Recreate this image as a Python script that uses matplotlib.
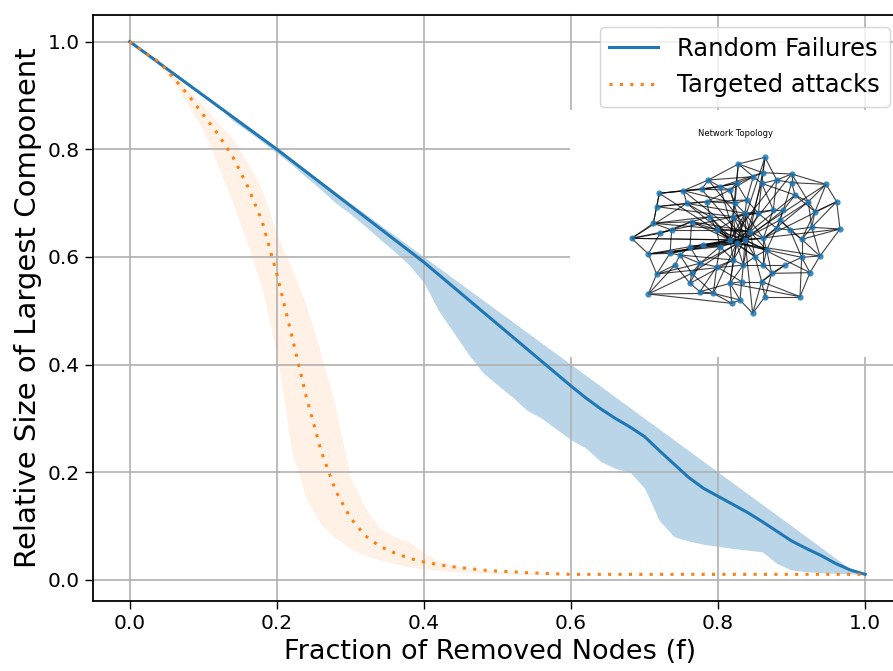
import numpy as np
import matplotlib
matplotlib.use("Agg")
import matplotlib.pyplot as plt
from matplotlib.collections import LineCollection

# fraction of removed nodes
f = np.linspace(0, 1, 51)

# random failures: mean and band
rand_mean = [1.0, 0.98, 0.96, 0.94, 0.92, 0.90, 0.88, 0.86, 0.84, 0.82,
             0.80, 0.779, 0.758, 0.737, 0.716, 0.695, 0.674, 0.653, 0.632, 0.611,
             0.59, 0.567, 0.544, 0.521, 0.498, 0.475, 0.452, 0.429, 0.406, 0.383,
             0.36, 0.338, 0.318, 0.30, 0.284, 0.266, 0.24, 0.215, 0.19, 0.17,
             0.155, 0.14, 0.125, 0.108, 0.09, 0.072, 0.058, 0.045, 0.03, 0.018,
             0.01]
rand_hi = [1.0, 0.98, 0.96, 0.94, 0.92, 0.90, 0.88, 0.86, 0.84, 0.82,
           0.80, 0.78, 0.76, 0.74, 0.72, 0.70, 0.68, 0.66, 0.64, 0.62,
           0.60, 0.58, 0.56, 0.54, 0.52, 0.50, 0.48, 0.46, 0.44, 0.42,
           0.40, 0.38, 0.36, 0.34, 0.32, 0.30, 0.28, 0.26, 0.24, 0.22,
           0.20, 0.18, 0.16, 0.14, 0.12, 0.10, 0.08, 0.06, 0.04, 0.02,
           0.01]
rand_lo = [1.0, 0.98, 0.96, 0.94, 0.92, 0.90, 0.88, 0.853, 0.834, 0.814,
           0.793, 0.772, 0.748, 0.725, 0.70, 0.68, 0.657, 0.633, 0.61, 0.585,
           0.552, 0.50, 0.46, 0.42, 0.385, 0.362, 0.34, 0.315, 0.30, 0.28,
           0.26, 0.245, 0.22, 0.207, 0.20, 0.17, 0.11, 0.08, 0.072, 0.066,
           0.062, 0.058, 0.055, 0.052, 0.03, 0.018, 0.015, 0.013, 0.012, 0.011,
           0.01]

# targeted attacks: mean and band
targ_mean = [1.0, 0.98, 0.962, 0.932, 0.90, 0.864, 0.828, 0.786, 0.732, 0.666,
             0.568, 0.455, 0.34, 0.24, 0.165, 0.115, 0.082, 0.062, 0.05, 0.04,
             0.033, 0.028, 0.024, 0.021, 0.018, 0.016, 0.015, 0.013, 0.012, 0.011,
             0.01, 0.01, 0.01, 0.01, 0.01, 0.01, 0.01, 0.01, 0.01, 0.01,
             0.01, 0.01, 0.01, 0.01, 0.01, 0.01, 0.01, 0.01, 0.01, 0.01,
             0.01]
targ_hi = [1.0, 0.98, 0.962, 0.94, 0.91, 0.88, 0.85, 0.82, 0.775, 0.725,
           0.64, 0.58, 0.51, 0.42, 0.32, 0.19, 0.135, 0.095, 0.08, 0.07,
           0.05, 0.035, 0.027, 0.022, 0.018, 0.016, 0.014, 0.013, 0.012, 0.011,
           0.01, 0.01, 0.01, 0.01, 0.01, 0.01, 0.01, 0.01, 0.01, 0.01,
           0.01, 0.01, 0.01, 0.01, 0.01, 0.01, 0.01, 0.01, 0.01, 0.01,
           0.01]
targ_lo = [1.0, 0.98, 0.955, 0.925, 0.88, 0.835, 0.77, 0.70, 0.625, 0.54,
           0.42, 0.24, 0.15, 0.103, 0.077, 0.058, 0.045, 0.037, 0.03, 0.024,
           0.02, 0.017, 0.015, 0.013, 0.012, 0.011, 0.01, 0.01, 0.01, 0.01,
           0.01, 0.01, 0.01, 0.01, 0.01, 0.01, 0.01, 0.01, 0.01, 0.01,
           0.01, 0.01, 0.01, 0.01, 0.01, 0.01, 0.01, 0.01, 0.01, 0.01,
           0.01]

# inset network: node layout (arbitrary units) and edges
node_x = [215, 265, 265, 290, 298, 280, 290, 330, 335, 370, 380, 395, 390, 425, 445,
          440, 450, 480, 470, 480, 420, 395, 390, 420, 460, 510, 525, 520, 510, 520,
          470, 430, 345, 360, 300, 615, 535, 608, 580, 695, 650, 695, 798, 530, 605,
          705, 830, 745, 670, 640, 765, 560, 555, 555, 595, 660, 650, 690, 755, 840,
          725, 610, 570, 530, 620, 585, 780, 725, 675, 750, 610, 550, 635, 605, 545,
          510, 720, 615, 578, 540, 515]
node_y = [415, 462, 582, 522, 280, 370, 320, 460, 390, 272, 310, 365, 440, 268, 240,
          305, 350, 260, 390, 440, 490, 520, 550, 575, 580, 270, 310, 350, 420, 480,
          500, 435, 495, 465, 400, 172, 192, 218, 230, 222, 240, 248, 253, 250, 250,
          285, 305, 305, 330, 330, 335, 300, 420, 340, 340, 360, 385, 390, 382, 387,
          418, 415, 395, 430, 450, 470, 468, 472, 495, 518, 495, 495, 520, 545, 545,
          550, 590, 590, 640, 600, 610]
edges = [(0, 5), (0, 1), (0, 8), (0, 34), (0, 10), (0, 28), (1, 3), (1, 7), (1, 12),
         (1, 34), (1, 19), (2, 3), (2, 24), (2, 21), (2, 32), (3, 32), (3, 20), (3, 7),
         (4, 6), (4, 9), (4, 13), (4, 5), (4, 17), (5, 6), (5, 8), (5, 11), (5, 16),
         (6, 10), (6, 15), (6, 27), (7, 33), (7, 8), (7, 31), (7, 28), (8, 11), (8, 34),
         (8, 18), (9, 10), (9, 14), (9, 13), (9, 26), (10, 15), (10, 16), (10, 53),
         (11, 16), (11, 18), (11, 12), (11, 62), (12, 31), (12, 33), (12, 20), (12, 28),
         (13, 14), (13, 17), (13, 25), (13, 43), (14, 17), (14, 36), (14, 38), (15, 16),
         (15, 25), (15, 26), (15, 51), (16, 18), (16, 27), (16, 28), (17, 25), (17, 43),
         (17, 37), (18, 19), (18, 28), (18, 63), (18, 62), (19, 20), (19, 29), (19, 31),
         (19, 30), (20, 21), (20, 30), (20, 22), (21, 22), (21, 33), (21, 24), (22, 23),
         (22, 32), (23, 24), (23, 75), (23, 30), (24, 80), (24, 79), (24, 30), (25, 26),
         (25, 43), (25, 38), (26, 27), (26, 51), (26, 53), (27, 53), (27, 28), (27, 54),
         (27, 63), (28, 63), (28, 52), (28, 29), (28, 62), (28, 61), (28, 64), (29, 30),
         (29, 71), (29, 75), (29, 63), (30, 74), (31, 28), (31, 63), (32, 33), (33, 20),
         (34, 11), (35, 36), (35, 37), (35, 40), (35, 44), (36, 37), (36, 43), (36, 38),
         (37, 38), (37, 39), (37, 44), (38, 43), (38, 51), (38, 44), (39, 40), (39, 41),
         (39, 42), (39, 47), (40, 41), (40, 44), (40, 49), (41, 45), (41, 42), (41, 48),
         (42, 46), (42, 47), (42, 50), (43, 51), (43, 26), (44, 49), (44, 54), (44, 45),
         (45, 47), (45, 48), (45, 50), (46, 50), (46, 59), (46, 58), (47, 50), (47, 58),
         (47, 55), (48, 49), (48, 55), (48, 56), (49, 54), (49, 53), (49, 61), (50, 58),
         (50, 60), (51, 53), (51, 54), (52, 63), (52, 62), (52, 64), (52, 71), (52, 61),
         (52, 28), (53, 54), (53, 62), (53, 63), (54, 62), (54, 56), (55, 56), (55, 57),
         (55, 60), (56, 57), (56, 61), (56, 64), (57, 60), (57, 58), (57, 67), (58, 59),
         (58, 66), (58, 60), (59, 66), (59, 60), (60, 67), (60, 66), (61, 62), (61, 64),
         (61, 70), (62, 63), (62, 65), (63, 71), (63, 65), (63, 75), (64, 65), (64, 70),
         (64, 72), (64, 67), (65, 70), (65, 71), (65, 73), (66, 67), (66, 69), (67, 68),
         (67, 69), (67, 76), (68, 70), (68, 72), (68, 73), (69, 76), (69, 72), (70, 72),
         (70, 71), (71, 74), (71, 75), (72, 73), (72, 77), (73, 74), (73, 77), (73, 78),
         (74, 75), (74, 79), (75, 80), (75, 79), (76, 77), (76, 73), (77, 78), (78, 79),
         (79, 80), (0, 52), (4, 63), (9, 52), (2, 80), (13, 52), (35, 63), (42, 63),
         (59, 52), (46, 61), (36, 28), (1, 63), (3, 71), (21, 63), (20, 52), (14, 62),
         (17, 63), (25, 52), (39, 63), (40, 28), (45, 62), (66, 63), (69, 52), (76, 75),
         (78, 52), (5, 62), (12, 52), (33, 29), (8, 27), (10, 63), (22, 29), (47, 61),
         (48, 52), (55, 63), (52, 18), (52, 27), (52, 53), (52, 65), (52, 31), (63, 16),
         (63, 11), (28, 53), (28, 65), (62, 27), (62, 64), (61, 53), (64, 63), (29, 52),
         (18, 53), (71, 62), (19, 52), (7, 52), (24, 63), (44, 52), (37, 62)]

W, H = 893, 671
fig = plt.figure(figsize=(W / 100, H / 100), dpi=100)
ax = fig.add_axes([93 / W, (H - 601) / H, (902 - 93) / W, 586 / H])

ax.fill_between(f, rand_lo, rand_hi, color="#1f77b4", alpha=0.3, linewidth=0)
ax.plot(f, rand_mean, color="#1f77b4", lw=2.2, label="Random Failures")
ax.fill_between(f, targ_lo, targ_hi, color="#ff7f0e", alpha=0.1, linewidth=0)
ax.plot(f, targ_mean, color="#ff7f0e", lw=2.2, linestyle=(0, (1, 2.4)),
        label="Targeted attacks")

ax.set_xlabel("Fraction of Removed Nodes (f)", fontsize=19.5)
ax.xaxis.label.set_x(0.491)
ax.set_ylabel("Relative Size of Largest Component", fontsize=21)
ax.tick_params(labelsize=14.5, length=6, width=1.0)
ax.grid(True, color="#b0b0b0", lw=1.2)
for s in ax.spines.values():
    s.set_linewidth(1.3)
ax.legend(loc="upper right", fontsize=17.5)

# inset with the network topology
ins = fig.add_axes([570 / W, (H - 357) / H, 332 / W, 247 / H])
ins.set_xlim(30, 1026)
ins.set_ylim(771, 30)
ins.set_xticks([])
ins.set_yticks([])
for s in ins.spines.values():
    s.set_visible(False)
segs = [[(node_x[a], node_y[a]), (node_x[b], node_y[b])] for a, b in edges]
ins.add_collection(LineCollection(segs, colors="black", linewidths=0.8, alpha=0.75))
ins.scatter(node_x, node_y, s=20, color="#1f77b4", alpha=0.85, zorder=3, linewidths=0)
ins.text(0.5, 0.903, "Network Topology", transform=ins.transAxes,
         ha="center", va="center", fontsize=6)

fig.savefig("out.png", dpi=100)
